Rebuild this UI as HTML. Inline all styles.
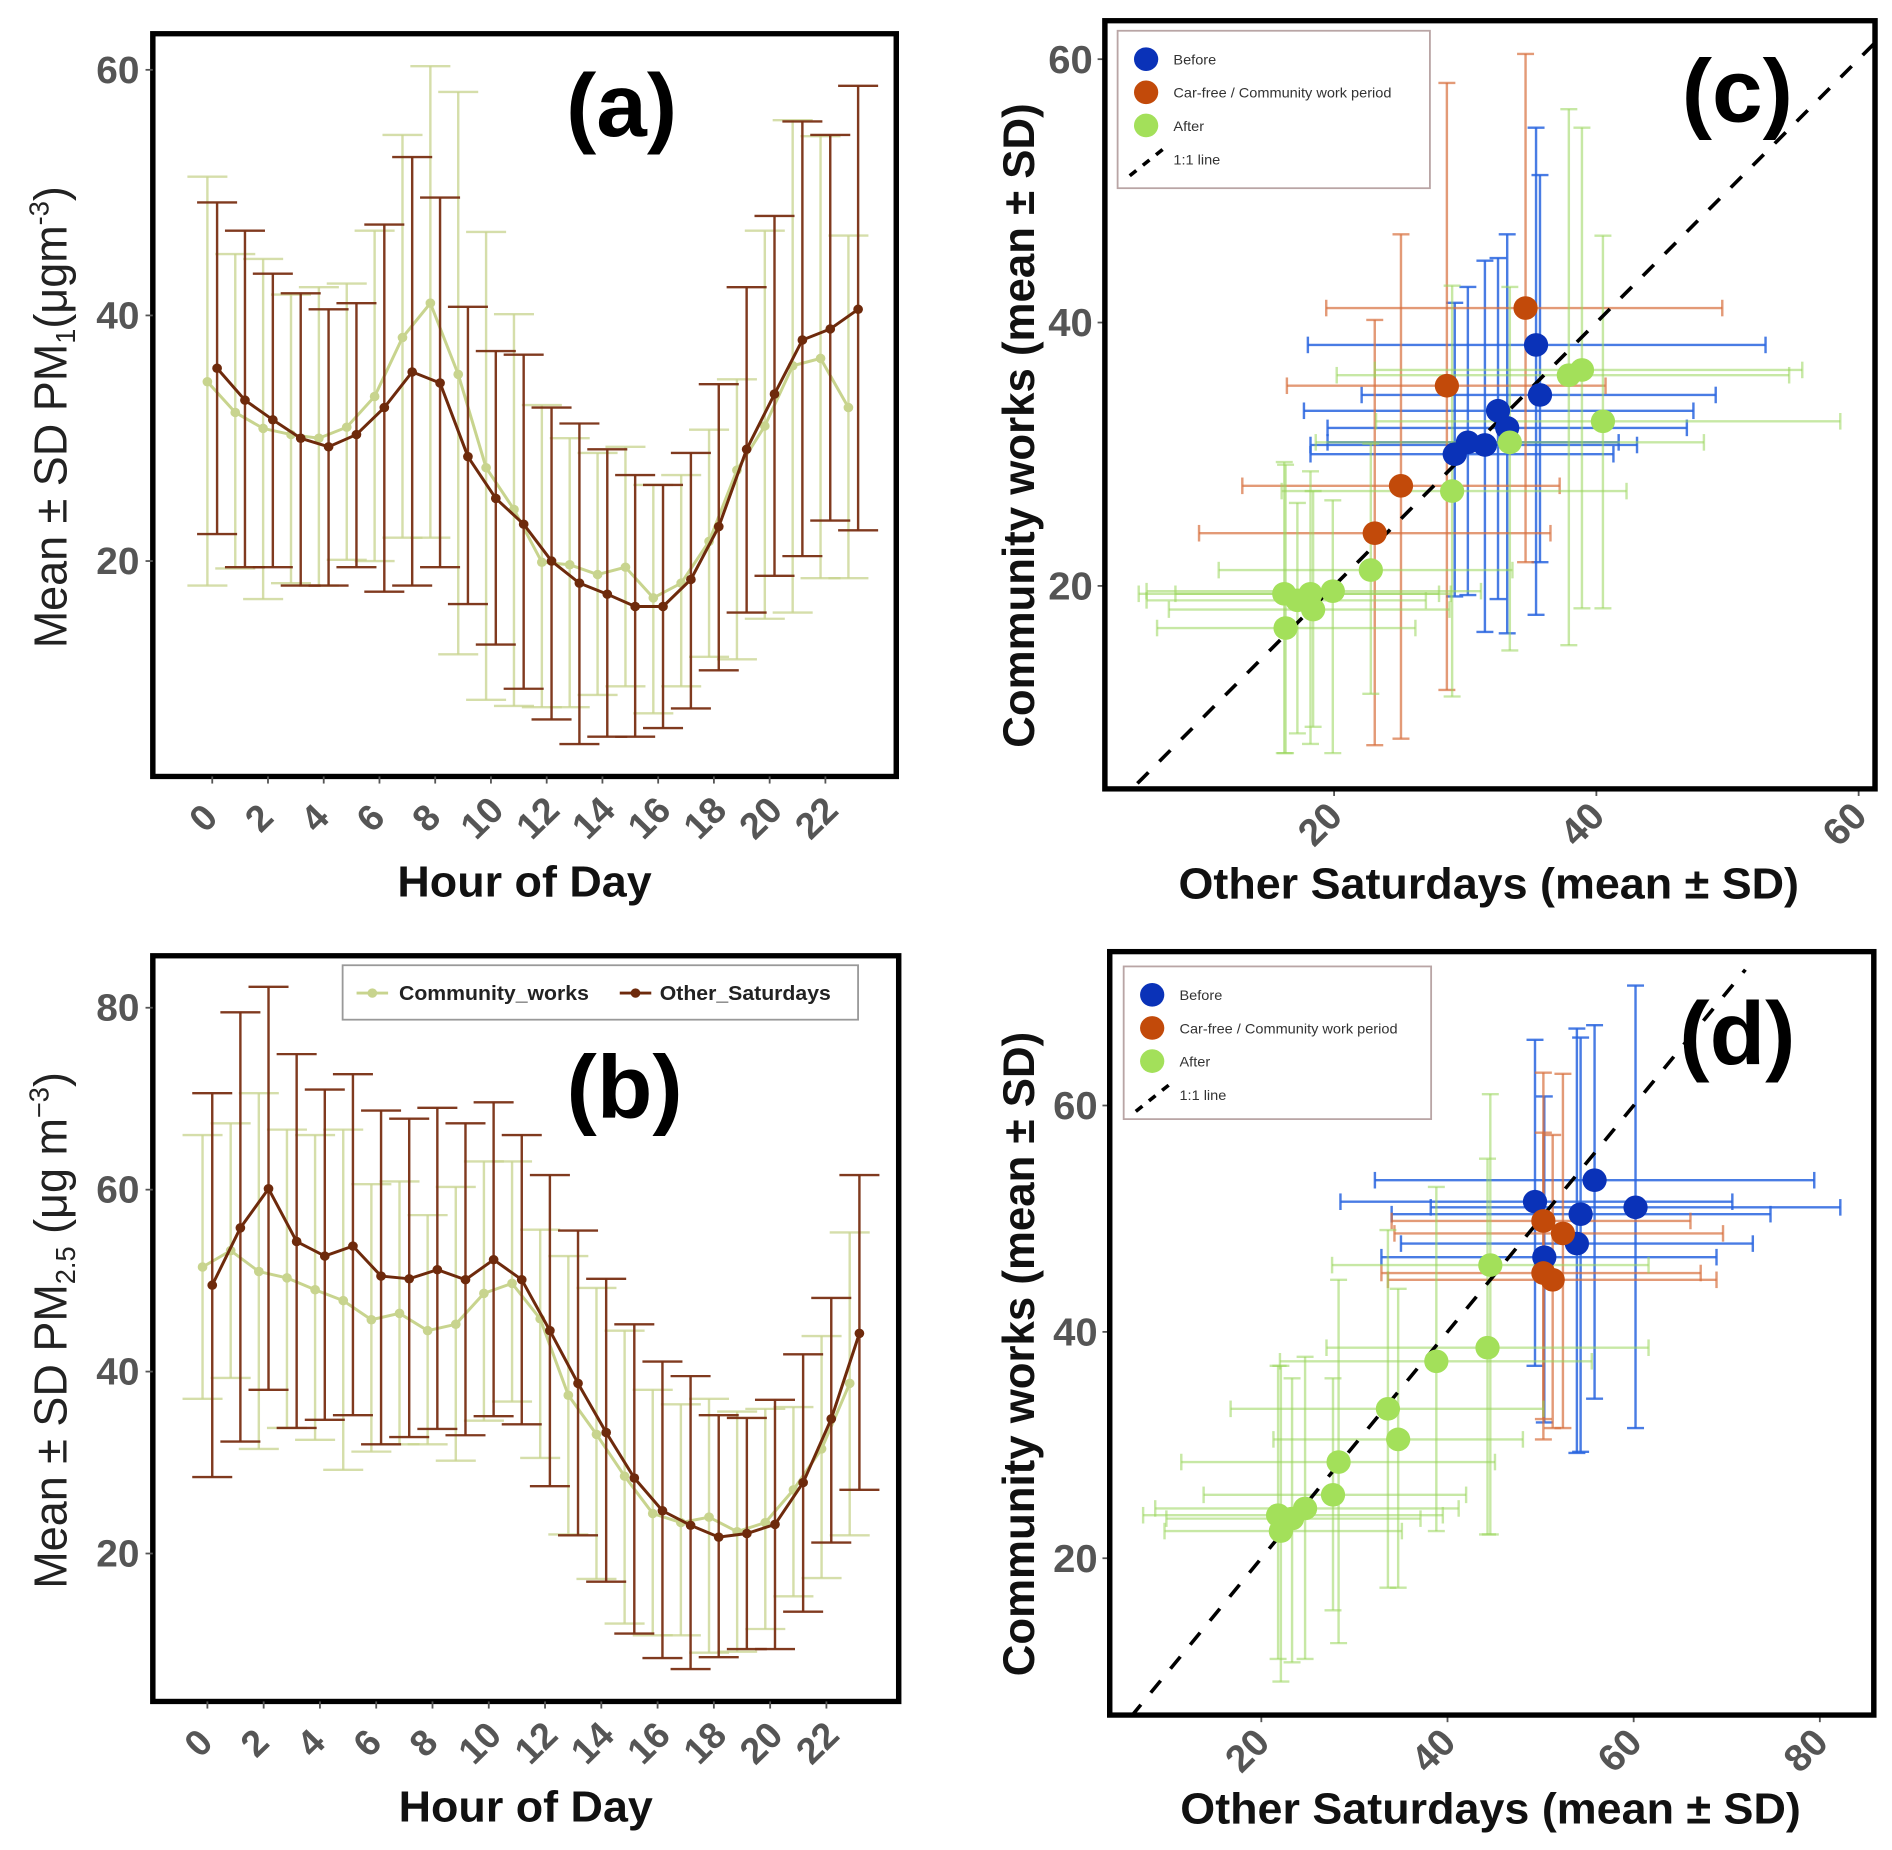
<!DOCTYPE html>
<html><head><meta charset="utf-8"><style>
html,body{margin:0;padding:0;background:#fff;}
svg{display:block;font-family:"Liberation Sans",sans-serif;}
</style></head><body>
<svg id="fig" width="1892" height="1850" viewBox="0 0 3120 3126" preserveAspectRatio="none" xmlns="http://www.w3.org/2000/svg"></svg>
<script>
// ---------- Panel (a) PM1 diurnal ----------
const hours = [0,1,2,3,4,5,6,7,8,9,10,11,12,13,14,15,16,17,18,19,20,21,22,23];
const xTickHours = [0,2,4,6,8,10,12,14,16,18,20,22];
const aTicks = [20,40,60];
const aTickLabels = ["20","40","60"];
const aOtherMean = [35.7,33.1,31.5,30.0,29.3,30.3,32.5,35.4,34.5,28.5,25.1,23.0,20.0,18.2,17.3,16.3,16.3,18.5,22.8,29.1,33.6,38.0,38.9,40.5];
const aOtherHi = [49.2,46.9,43.4,41.8,40.5,41.0,47.4,52.9,49.6,40.7,37.1,36.8,32.5,31.2,29.1,27.0,26.2,28.8,34.4,42.3,48.1,55.8,54.7,58.7];
const aOtherLo = [22.2,19.5,19.5,18.0,18.0,19.5,17.5,18.0,19.5,16.5,13.2,9.6,7.1,5.1,5.7,5.7,6.4,8.0,11.1,15.8,18.8,20.4,23.3,22.5];
const aCommMean = [34.6,32.1,30.8,30.3,30.0,30.9,33.4,38.2,41.0,35.2,27.6,24.2,19.9,19.7,18.9,19.5,17.0,18.2,21.6,27.4,31.0,35.9,36.5,32.5];
const aCommHi = [51.3,45.0,44.6,41.7,42.3,42.6,46.9,54.7,60.3,58.2,46.8,40.1,32.7,30.0,28.8,29.3,26.2,27.0,30.7,34.8,46.9,55.9,54.6,46.5];
const aCommLo = [18.0,19.4,16.9,18.2,18.0,20.1,20.0,21.9,21.9,12.4,8.7,8.2,8.1,8.1,9.1,9.8,7.6,9.8,12.2,12.0,15.3,15.8,18.6,18.6];
// ---------- Panel (b) PM2.5 diurnal ----------
const bTicks = [20,40,60,80];
const bTickLabels = ["20","40","60","80"];
const bOtherMean = [49.5,55.8,60.1,54.3,52.7,53.8,50.5,50.2,51.2,50.1,52.3,50.1,44.5,38.7,33.3,28.3,24.7,23.1,21.8,22.2,23.2,27.8,34.8,44.2];
const bOtherHi = [70.6,79.5,82.3,74.9,71.0,72.7,68.7,67.8,69.0,67.3,69.6,66.0,61.6,55.5,50.2,45.2,41.1,39.5,35.2,34.9,36.9,41.9,48.1,61.6];
const bOtherLo = [28.4,32.3,38.0,33.8,34.7,35.2,32.0,32.8,33.7,33.0,35.1,34.2,27.4,22.0,16.9,11.2,8.5,7.3,8.6,9.5,9.5,13.6,21.2,27.0];
const bCommMean = [51.5,53.3,51.0,50.3,49.0,47.8,45.7,46.4,44.5,45.2,48.6,49.7,45.8,37.4,33.1,28.5,24.4,23.4,24.0,22.4,23.4,27.0,31.5,38.7];
const bCommHi = [66.0,67.3,70.6,66.6,66.0,66.6,60.6,60.9,57.2,60.3,63.1,63.1,55.6,52.7,49.2,44.5,38.0,36.4,37.0,35.6,35.9,36.1,43.9,55.3];
const bCommLo = [37.0,39.3,31.5,33.8,32.5,29.2,31.2,32.0,32.0,30.2,34.6,36.7,30.5,22.1,17.2,12.3,11.0,11.0,9.1,9.2,11.7,15.3,17.3,22.0];
// ---------- Panel (c) scatter ----------
const cTicks = [20,40,60];
const cGroups = ["Before","Car-free / Community work period","After"];
const cGroup = [0,0,0,0,0,0,0, 1,1,1,1, 2,2,2,2,2,2,2,2,2,2,2,2];
const cX = [35.4,35.7,32.5,33.2,31.5,30.2,29.2, 34.6,28.6,25.1,23.1, 37.9,38.9,40.5,33.4,29.0,22.8,16.2,18.2,19.9,17.2,18.4,16.3];
const cY = [38.3,34.5,33.3,32.0,30.7,30.9,30.0, 41.1,35.2,27.6,24.0, 36.0,36.4,32.5,30.9,27.2,21.2,19.4,19.4,19.6,18.9,18.2,16.8];
const cXlo = [18.0,22.1,17.7,19.5,18.2,19.5,18.2, 19.4,16.4,13.0,9.7, 20.2,23.1,23.2,18.6,16.0,11.2,5.1,7.9,5.7,5.7,7.4,6.5];
const cXhi = [52.9,49.1,47.4,46.9,43.1,41.7,41.3, 49.6,40.7,37.2,36.5, 54.7,55.7,58.6,48.2,42.3,33.6,28.9,28.0,31.2,27.0,28.8,26.2];
const cYlo = [17.8,21.8,19.0,16.4,16.5,19.3,19.2, 21.8,12.1,8.4,7.9, 15.5,18.3,18.3,15.1,11.6,11.8,7.3,8.0,7.3,8.8,9.3,7.3];
const cYhi = [54.8,51.2,44.9,46.7,44.7,42.7,41.5, 60.4,58.2,46.7,40.2, 56.2,54.8,46.6,42.7,42.8,30.8,29.4,28.7,26.5,26.3,27.2,29.2];
// ---------- Panel (d) scatter ----------
const dTicksX = [20,40,60,80];
const dTicksY = [20,40,60];
const dGroup = [0,0,0,0,0,0, 1,1,1,1, 2,2,2,2,2,2,2,2,2,2,2];
const dX = [55.8,49.4,60.2,54.3,53.9,50.4, 50.3,52.4,50.3,51.3, 44.6,44.3,38.8,33.6,34.7,28.3,27.7,24.7,21.8,23.3,22.1];
const dY = [53.4,51.5,51.0,50.4,47.8,46.6, 49.8,48.7,45.2,44.6, 45.9,38.6,37.4,33.2,30.5,28.5,25.6,24.4,23.8,23.5,22.4];
const dXlo = [32.2,28.5,38.2,34.0,35.0,32.9, 34.0,34.3,32.9,33.6, 27.6,27.0,22.0,16.7,21.3,11.4,13.8,8.6,7.3,9.8,9.6];
const dXhi = [79.4,70.6,82.2,74.7,72.8,68.9, 66.1,69.6,67.2,68.9, 61.6,61.6,55.5,50.3,48.1,45.1,42.0,41.2,39.5,37.1,35.1];
const dYlo = [34.1,37.0,31.5,29.4,29.3,32.0, 30.5,31.5,32.3,31.5, 22.1,22.1,22.4,17.4,17.4,12.5,15.4,11.1,11.1,10.8,9.1];
const dYhi = [67.1,65.8,70.6,66.0,66.8,60.8, 62.9,62.8,57.6,57.4, 61.0,55.3,52.8,49.0,43.8,44.6,35.9,37.8,37.0,35.9,37.0];

const NS = "http://www.w3.org/2000/svg";
const svg = document.getElementById('fig');
function el(tag, attrs, parent){const e=document.createElementNS(NS,tag);for(const k in attrs)e.setAttribute(k,attrs[k]);(parent||svg).appendChild(e);return e;}
function txt(s, attrs, parent){const t=el('text',attrs,parent);t.textContent=s;return t;}

const DARK="#6e2a0c", DARKBAR="#7a3014", LIGHT="#c8d48e";
const GCOL=["#0a32b8","#c24a0a","#a3e05a"];
const GBAR=["#2a66e0","#d8703e","#9ad65c"];

function tsPanel(ox, oy, name, frame, x0, step, yAt, v0, ticks, tickLabels, other, otherHi, otherLo, comm, commHi, commLo, label, labelPos){
  const g=el('g',{transform:`translate(${ox},${oy})`});
  
  
  const xs=h=>x0+h*step;
  const ys=v=>yAt-(v-v0)*frame.sc;
  const fr=el('rect',{x:frame.x1,y:frame.y1,width:frame.x2-frame.x1,height:frame.y2-frame.y1,fill:'none',stroke:'#000','stroke-width':9},g);
  
  
  ticks.forEach((t,i)=>{
    el('line',{x1:frame.x1-12,x2:frame.x1,y1:ys(t),y2:ys(t),stroke:'#555','stroke-width':3},g);
    const tl=txt(tickLabels[i],{x:frame.x1-22,y:ys(t)+22,'text-anchor':'end','font-size':64,'font-weight':'bold',fill:'#555'},g);
    
    
  });
  xTickHours.forEach(h=>{
    el('line',{x1:xs(h),x2:xs(h),y1:frame.y2,y2:frame.y2+12,stroke:'#555','stroke-width':3},g);
    const tl=txt(String(h),{x:0,y:0,'text-anchor':'middle','font-size':62,'font-weight':'bold',fill:'#555',transform:`translate(${xs(h)},${frame.y2+85}) rotate(-45)`},g);
    
    
  });
  function series(mean,hi,lo,col,barCol,op,sw,nm,dx){
    const sg=el('g',{},g);
    
    
    hours.forEach((h,i)=>{
      const x=xs(h)+dx;
      el('line',{x1:x,x2:x,y1:ys(hi[i]),y2:ys(lo[i]),stroke:barCol,'stroke-width':sw,opacity:op},sg);
      el('line',{x1:x-33,x2:x+33,y1:ys(hi[i]),y2:ys(hi[i]),stroke:barCol,'stroke-width':sw,opacity:op},sg);
      el('line',{x1:x-33,x2:x+33,y1:ys(lo[i]),y2:ys(lo[i]),stroke:barCol,'stroke-width':sw,opacity:op},sg);
    });
    el('polyline',{points:hours.map((h,i)=>`${xs(h)+dx},${ys(mean[i])}`).join(' '),fill:'none',stroke:col,'stroke-width':5},sg);
    hours.forEach((h,i)=>{
      const p=el('circle',{cx:xs(h)+dx,cy:ys(mean[i]),r:8,fill:col},sg);
      
      
    });
  }
  series(comm,commHi,commLo,LIGHT,LIGHT,0.75,4,'community-works-series',-8);
  series(other,otherHi,otherLo,DARK,DARKBAR,0.95,4,'other-saturdays-series',8);
  const pl=txt(label,{x:labelPos[0],y:labelPos[1],'text-anchor':'middle','font-size':150,'font-weight':'bold',fill:'#000'},g);
  
  
  const xt=txt('Hour of Day',{x:(frame.x1+frame.x2)/2,y:1515,'text-anchor':'middle','font-size':74,'font-weight':'bold',fill:'#111'},g);
  
  
  return g;
}

const gA=tsPanel(0,0,'panel-a-pm1',{x1:252,x2:1478,y1:57,y2:1312,sc:20.75},350,45.96,948,20,aTicks,aTickLabels,aOtherMean,aOtherHi,aOtherLo,aCommMean,aCommHi,aCommLo,'(a)',[1025,230]);
const ytA=el('text',{x:0,y:0,'text-anchor':'middle','font-size':76,fill:'#222',transform:'translate(110,705) rotate(-90)'},gA);


ytA.innerHTML='Mean ± SD PM<tspan font-size="46" dy="14">1</tspan><tspan dy="-14">(μgm</tspan><tspan font-size="46" dy="-30">-3</tspan><tspan dy="30">)</tspan>';

const gB=tsPanel(0,1563,'panel-b-pm25',{x1:252,x2:1482,y1:52,y2:1312,sc:15.37},342,46.4,1062,20,bTicks,bTickLabels,bOtherMean,bOtherHi,bOtherLo,bCommMean,bCommHi,bCommLo,'(b)',[1030,325]);
const ytB=el('text',{x:0,y:0,'text-anchor':'middle','font-size':76,fill:'#222',transform:'translate(110,685) rotate(-90)'},gB);


ytB.innerHTML='Mean ± SD PM<tspan font-size="46" dy="14">2.5</tspan><tspan dy="-14"> (μg m</tspan><tspan font-size="46" dy="-30">−3</tspan><tspan dy="30">)</tspan>';
const lgB=el('g',{},gB);


el('rect',{x:565,y:68,width:850,height:92,fill:'#fff',stroke:'#999','stroke-width':3},lgB);
el('line',{x1:588,x2:640,y1:115,y2:115,stroke:LIGHT,'stroke-width':5},lgB);
el('circle',{cx:614,cy:115,r:8,fill:LIGHT},lgB);
const le1=txt('Community_works',{x:658,y:127,'font-size':35,'font-weight':'bold',fill:'#222'},lgB);


el('line',{x1:1022,x2:1074,y1:115,y2:115,stroke:DARK,'stroke-width':5},lgB);
el('circle',{cx:1048,cy:115,r:8,fill:DARK},lgB);
const le2=txt('Other_Saturdays',{x:1088,y:127,'font-size':35,'font-weight':'bold',fill:'#222'},lgB);



function scPanel(ox,oy,name,frame,xAx,yAx,ticksX,ticksY,grp,X,Y,Xlo,Xhi,Ylo,Yhi,lineRange,label,labelPos,leg){
  const g=el('g',{transform:`translate(${ox},${oy})`});
  
  
  const xs=v=>xAx.p+(v-xAx.v)*xAx.s;
  const ys=v=>yAx.p-(v-yAx.v)*yAx.s;
  const clip='clip'+name;
  const cp=el('clipPath',{id:clip},g);
  el('rect',{x:frame.x1,y:frame.y1,width:frame.x2-frame.x1,height:frame.y2-frame.y1},cp);
  ticksY.forEach(t=>{
    el('line',{x1:frame.x1-12,x2:frame.x1,y1:ys(t),y2:ys(t),stroke:'#555','stroke-width':3},g);
    const tl=txt(String(t),{x:frame.x1-20,y:ys(t)+23,'text-anchor':'end','font-size':66,'font-weight':'bold',fill:'#555'},g);
    
    
  });
  ticksX.forEach(t=>{
    el('line',{x1:xs(t),x2:xs(t),y1:frame.y2,y2:frame.y2+12,stroke:'#555','stroke-width':3},g);
    const tl=txt(String(t),{x:0,y:0,'text-anchor':'middle','font-size':64,'font-weight':'bold',fill:'#555',transform:`translate(${xs(t)-8},${frame.y2+75}) rotate(-45)`},g);
    
    
  });
  const pg=el('g',{'clip-path':`url(#${clip})`},g);
  const bars=el('g',{},pg);
  
  
  const op=[0.85,0.7,0.55];
  X.forEach((x,i)=>{
    const c=GBAR[grp[i]],o=op[grp[i]];
    el('line',{x1:xs(Xlo[i]),x2:xs(Xhi[i]),y1:ys(Y[i]),y2:ys(Y[i]),stroke:c,'stroke-width':4,opacity:o},bars);
    el('line',{x1:xs(Xlo[i]),x2:xs(Xlo[i]),y1:ys(Y[i])-14,y2:ys(Y[i])+14,stroke:c,'stroke-width':4,opacity:o},bars);
    el('line',{x1:xs(Xhi[i]),x2:xs(Xhi[i]),y1:ys(Y[i])-14,y2:ys(Y[i])+14,stroke:c,'stroke-width':4,opacity:o},bars);
    el('line',{x1:xs(x),x2:xs(x),y1:ys(Yhi[i]),y2:ys(Ylo[i]),stroke:c,'stroke-width':4,opacity:o},bars);
    el('line',{x1:xs(x)-14,x2:xs(x)+14,y1:ys(Yhi[i]),y2:ys(Yhi[i]),stroke:c,'stroke-width':4,opacity:o},bars);
    el('line',{x1:xs(x)-14,x2:xs(x)+14,y1:ys(Ylo[i]),y2:ys(Ylo[i]),stroke:c,'stroke-width':4,opacity:o},bars);
  });
  const one=el('line',{x1:xs(lineRange[0]),y1:ys(lineRange[0]),x2:xs(lineRange[1]),y2:ys(lineRange[1]),stroke:'#000','stroke-width':6,'stroke-dasharray':'26 26'},pg);
  
  
  X.forEach((x,i)=>{
    const p=el('circle',{cx:xs(x),cy:ys(Y[i]),r:20,fill:GCOL[grp[i]]},pg);
    
    
  });
  const fr=el('rect',{x:frame.x1,y:frame.y1,width:frame.x2-frame.x1,height:frame.y2-frame.y1,fill:'none',stroke:'#000','stroke-width':9},g);
  
  
  const lg=el('g',{},g);
  
  
  el('rect',{x:leg.x,y:leg.y,width:leg.w,height:leg.h,fill:'#fff',stroke:'#b9a5a5','stroke-width':3},lg);
  const labs=['Before','Car-free / Community work period','After'];
  labs.forEach((s,k)=>{
    el('circle',{cx:leg.x+47,cy:leg.y+48+k*56,r:20,fill:GCOL[k]},lg);
    const t=txt(s,{x:leg.x+92,y:leg.y+57+k*56,'font-size':24,fill:'#333'},lg);
    
    
  });
  el('line',{x1:leg.x+20,y1:leg.y+245,x2:leg.x+75,y2:leg.y+200,stroke:'#000','stroke-width':6,'stroke-dasharray':'14 14'},lg);
  const t4=txt('1:1 line',{x:leg.x+92,y:leg.y+226,'font-size':24,fill:'#333'},lg);
  
  
  const pl=txt(label,{x:labelPos[0],y:labelPos[1],'text-anchor':'middle','font-size':150,'font-weight':'bold',fill:'#000'},g);
  
  
  const xt=txt('Other Saturdays (mean ± SD)',{x:(frame.x1+frame.x2)/2-2,y:1518,'text-anchor':'middle','font-size':74,'font-weight':'bold',fill:'#111'},g);
  
  
  const yt=txt('Community works (mean ± SD)',{x:0,y:0,'text-anchor':'middle','font-size':74,'font-weight':'bold',fill:'#111',transform:`translate(145,${(frame.y1+frame.y2)/2+35}) rotate(-90)`},g);
  
  
}

scPanel(1560,0,'panel-c-scatter',{x1:262,x2:1532,y1:35,y2:1333},{p:640,v:20,s:21.625},{p:990,v:20,s:22.25},cTicks,cTicks,cGroup,cX,cY,cXlo,cXhi,cYlo,cYhi,[5,62],'(c)',[1305,205],{x:283,y:52,w:515,h:266});
scPanel(1560,1563,'panel-d-scatter',{x1:270,x2:1530,y1:45,y2:1335},{p:520,v:20,s:15.35},{p:1070,v:20,s:19.125},dTicksX,dTicksY,dGroup,dX,dY,dXlo,dXhi,dYlo,dYhi,[6,72],'(d)',[1305,235],{x:293,y:70,w:507,h:258});
</script>
</body></html>
